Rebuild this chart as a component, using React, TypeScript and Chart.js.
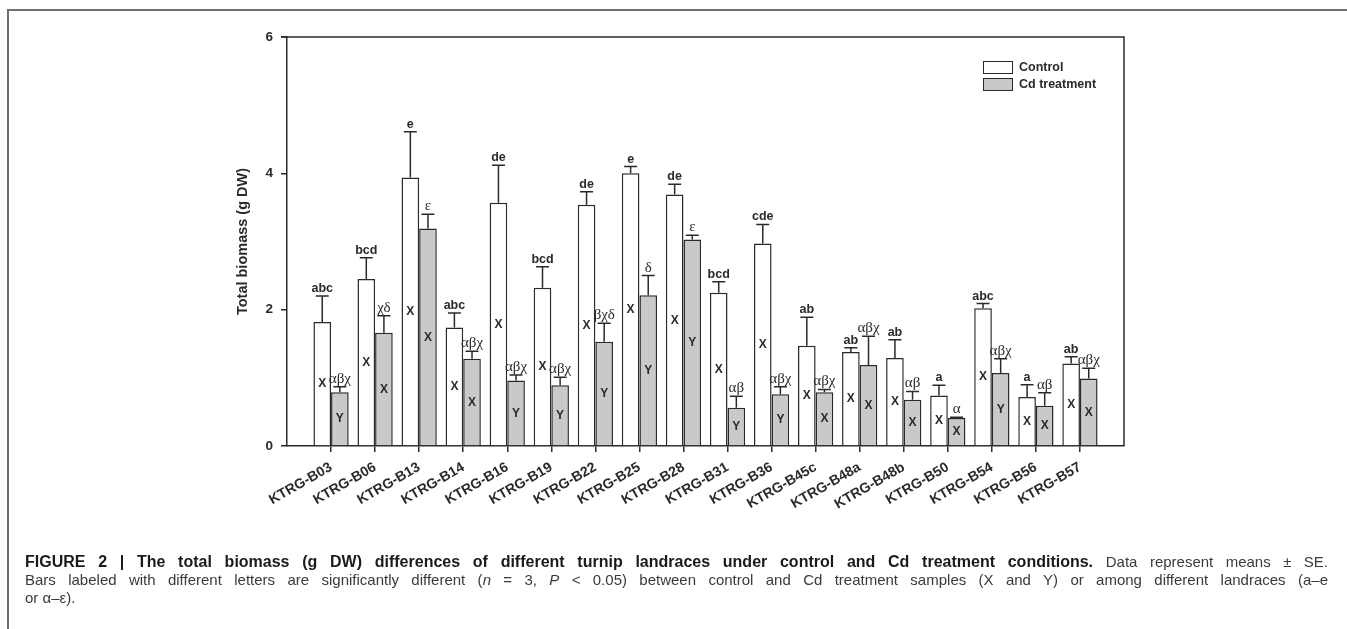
import React, { useEffect, useRef } from 'react';
import { Chart, registerables } from 'chart.js';

Chart.register(...registerables);

const categories = [
  'KTRG-B03', 'KTRG-B06', 'KTRG-B13', 'KTRG-B14', 'KTRG-B16', 'KTRG-B19',
  'KTRG-B22', 'KTRG-B25', 'KTRG-B28', 'KTRG-B31', 'KTRG-B36', 'KTRG-B45c',
  'KTRG-B48a', 'KTRG-B48b', 'KTRG-B50', 'KTRG-B54', 'KTRG-B56', 'KTRG-B57',
];
const controlValues = [1.82, 2.45, 3.94, 1.74, 3.57, 2.32, 3.54, 4.0, 3.69, 2.25, 2.97, 1.47, 1.38, 1.29, 0.74, 2.02, 0.72, 1.21];
const controlErrors = [0.38, 0.31, 0.67, 0.21, 0.55, 0.31, 0.19, 0.1, 0.15, 0.16, 0.28, 0.42, 0.06, 0.27, 0.15, 0.07, 0.18, 0.1];
const cdValues = [0.79, 1.66, 3.19, 1.28, 0.96, 0.89, 1.53, 2.21, 3.03, 0.56, 0.76, 0.79, 1.19, 0.68, 0.41, 1.07, 0.59, 0.99];
const cdErrors = [0.08, 0.25, 0.21, 0.11, 0.08, 0.12, 0.27, 0.29, 0.06, 0.17, 0.11, 0.04, 0.42, 0.12, 0.01, 0.21, 0.19, 0.15];
const controlLetters = ['abc', 'bcd', 'e', 'abc', 'de', 'bcd', 'de', 'e', 'de', 'bcd', 'cde', 'ab', 'ab', 'ab', 'a', 'abc', 'a', 'ab'];
const cdLetters = ['αβχ', 'χδ', 'ε', 'αβχ', 'αβχ', 'αβχ', 'βχδ', 'δ', 'ε', 'αβ', 'αβχ', 'αβχ', 'αβχ', 'αβ', 'α', 'αβχ', 'αβ', 'αβχ'];
const controlGroups = ['X', 'X', 'X', 'X', 'X', 'X', 'X', 'X', 'X', 'X', 'X', 'X', 'X', 'X', 'X', 'X', 'X', 'X'];
const cdGroups = ['Y', 'X', 'X', 'X', 'Y', 'Y', 'Y', 'Y', 'Y', 'Y', 'Y', 'X', 'X', 'X', 'X', 'Y', 'X', 'X'];
const yTicks = [0, 2, 4, 6];
const seriesNames = ['Control', 'Cd treatment'];

const SANS = '"Liberation Sans", Arial, Helvetica, sans-serif';
const SERIF = '"Liberation Serif", "Times New Roman", serif';
const INK = '#2a2a2a';
const GRAY = '#c9c9c9';

const annotatePlugin = {
  id: 'annotate',
  afterDatasetsDraw(chart: any) {
    const { ctx, chartArea } = chart;
    const y = chart.scales.y;
    const sets = [
      { vals: controlValues, errs: controlErrors, letters: controlLetters, groups: controlGroups, font: `bold 12.5px ${SANS}` },
      { vals: cdValues, errs: cdErrors, letters: cdLetters, groups: cdGroups, font: `15px ${SERIF}` },
    ];
    ctx.save();
    sets.forEach((s, di) => {
      const meta = chart.getDatasetMeta(di);
      s.vals.forEach((v: number, i: number) => {
        const bar = meta.data[i + 1];
        if (!bar) return;
        const x = bar.x;
        const yTop = y.getPixelForValue(v);
        const yErr = y.getPixelForValue(v + s.errs[i]);
        ctx.strokeStyle = INK;
        ctx.lineWidth = 1.5;
        ctx.beginPath();
        ctx.moveTo(x, yTop);
        ctx.lineTo(x, yErr);
        ctx.moveTo(x - 6.5, yErr);
        ctx.lineTo(x + 6.5, yErr);
        ctx.stroke();
        ctx.fillStyle = INK;
        ctx.textAlign = 'center';
        ctx.textBaseline = 'alphabetic';
        ctx.font = s.font;
        ctx.fillText(s.letters[i], x, yErr - 4);
        ctx.font = `bold 12px ${SANS}`;
        ctx.textBaseline = 'middle';
        ctx.fillText(s.groups[i], x, y.getPixelForValue(v / 2));
      });
    });
    // frame: top and right lines of the plot box
    ctx.strokeStyle = INK;
    ctx.lineWidth = 1.5;
    ctx.beginPath();
    ctx.moveTo(chartArea.left - 6, chartArea.top);
    ctx.lineTo(chartArea.right, chartArea.top);
    ctx.lineTo(chartArea.right, chartArea.bottom);
    ctx.stroke();
    // legend
    const lx = chartArea.right - 141;
    const ly = chartArea.top + 24;
    const fills = ['#ffffff', GRAY];
    seriesNames.forEach((name, k) => {
      const by = ly + k * 17;
      ctx.fillStyle = fills[k];
      ctx.fillRect(lx, by, 29, 12);
      ctx.strokeStyle = INK;
      ctx.lineWidth = 1;
      ctx.strokeRect(lx + 0.5, by + 0.5, 29, 12);
      ctx.fillStyle = INK;
      ctx.font = `bold 12.5px ${SANS}`;
      ctx.textAlign = 'left';
      ctx.textBaseline = 'middle';
      ctx.fillText(name, lx + 36, by + 6.5);
    });
    ctx.restore();
  },
};

export default function App() {
  const canvasRef = useRef<HTMLCanvasElement | null>(null);

  useEffect(() => {
    const canvas = canvasRef.current;
    if (!canvas) return;
    const labels = ['', ...categories, ''];
    const last = labels.length - 1;
    const chart = new Chart(canvas, {
      type: 'bar',
      data: {
        labels,
        datasets: [
          {
            label: seriesNames[0],
            data: [null, ...controlValues, null],
            backgroundColor: '#ffffff',
            borderColor: INK,
            borderWidth: 1.5,
          },
          {
            label: seriesNames[1],
            data: [null, ...cdValues, null],
            backgroundColor: GRAY,
            borderColor: INK,
            borderWidth: 1.5,
          },
        ],
      },
      options: {
        responsive: false,
        animation: false,
        devicePixelRatio: 1,
        layout: { padding: { left: 227, top: 37, right: 223, bottom: 20 } },
        plugins: { legend: { display: false }, tooltip: { enabled: false } },
        datasets: { bar: { categoryPercentage: 0.8, barPercentage: 1 } },
        scales: {
          x: {
            type: 'category',
            offset: false,
            grid: {
              display: true,
              offset: false,
              drawOnChartArea: false,
              drawTicks: true,
              tickLength: 6,
              lineWidth: 1.5,
              color: (c: any) => (c.index === 0 || c.index === last ? 'rgba(0,0,0,0)' : INK),
            },
            border: { display: true, color: INK, width: 1.5 },
            ticks: {
              autoSkip: false,
              minRotation: 30,
              maxRotation: 30,
              padding: 7,
              color: INK,
              font: { family: SANS, size: 14, weight: 'bold' },
            },
            afterFit: (s: any) => { s.height = 90; },
          },
          y: {
            min: 0,
            max: 6,
            afterBuildTicks: (s: any) => { s.ticks = yTicks.map((v) => ({ value: v })); },
            grid: { display: true, drawOnChartArea: false, drawTicks: true, tickLength: 6, lineWidth: 1.5, color: INK },
            border: { display: true, color: INK, width: 1.5 },
            ticks: { padding: 8, color: INK, font: { family: SANS, size: 13.5, weight: 'bold' } },
            title: {
              display: true,
              text: 'Total biomass (g DW)',
              color: INK,
              font: { family: SANS, size: 14.5, weight: 'bold' },
              padding: { top: 7, bottom: 0 },
            },
            afterFit: (s: any) => { s.width = 60; },
          },
        },
      },
      plugins: [annotatePlugin],
    } as any);
    return () => chart.destroy();
  }, []);

  const reg = { fontSize: 15, color: '#3a3a3a' };

  return (
    <div style={{ position: 'fixed', left: 0, top: 0, width: 1347, height: 629, background: '#fff', overflow: 'hidden' }}>
      <div style={{ position: 'absolute', left: 7, top: 9, width: 1360, height: 640, borderTop: '2px solid #6f6f6f', borderLeft: '2px solid #6f6f6f' }} />
      <canvas ref={canvasRef} width={1347} height={556} style={{ position: 'absolute', left: 0, top: 0, width: 1347, height: 556, display: 'block' }} />
      <div style={{ position: 'absolute', left: 25, top: 553, width: 1303, fontFamily: SANS, fontSize: 16, lineHeight: '18px', color: '#1a1a1a' }}>
        <div style={{ textAlign: 'justify', textAlignLast: 'justify' }}>
          <b>FIGURE 2 | The total biomass (g DW) differences of different turnip landraces under control and Cd treatment conditions.</b> <span style={reg}>Data represent means ± SE.</span>
        </div>
        <div style={{ textAlign: 'justify', textAlignLast: 'justify' }}>
          <span style={reg}>Bars labeled with different letters are significantly different (<i>n</i> = 3, <i>P</i> &lt; 0.05) between control and Cd treatment samples (X and Y) or among different landraces (a–e</span>
        </div>
        <div><span style={reg}>or α–ε).</span></div>
      </div>
    </div>
  );
}
